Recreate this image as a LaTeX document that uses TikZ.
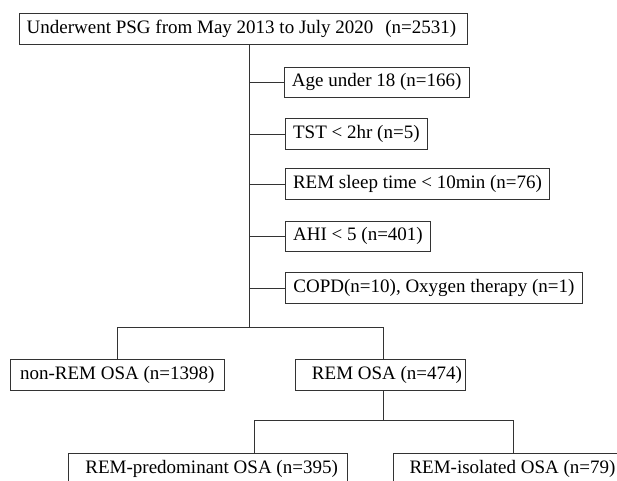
\documentclass[tikz,border=0pt]{standalone}
\usepackage{fontspec}
\setmainfont{Liberation Serif}
\begin{document}
\begin{tikzpicture}[
    x=1pt, y=-1pt,
    box/.style={rectangle, draw=black!80, line width=1pt, anchor=north west, minimum height=30.4pt, inner sep=2pt, font=\fontsize{19}{22}\selectfont},
    link/.style={draw=black!80, line width=1pt}
]
    \clip (0,0) rectangle (617,480);
    \node[box, minimum width=447.4pt] (psg) at (19.3,13.3) {Underwent PSG from May 2013 to July 2020\hspace{12pt}(n=2531)\hspace*{4pt}};
    \node[box, minimum width=185.5pt] (age) at (283.5,66.7) {Age under 18 (n=166)};
    \node[box, minimum width=141.7pt] (tst) at (285,118.3) {TST < 2hr (n=5)};
    \node[box, minimum width=264pt] (remtime) at (285,168.3) {REM sleep time < 10min (n=76)};
    \node[box, minimum width=145pt] (ahi) at (285,220.7) {AHI < 5 (n=401)};
    \node[box, minimum width=296.4pt] (copd) at (285.3,272.3) {COPD(n=10), Oxygen therapy (n=1)};
    \node[box, minimum width=213.5pt] (nonrem) at (10,359.3) {non-REM OSA (n=1398)};
    \node[box, minimum width=170pt] (remosa) at (294.5,359.3) {\hspace*{14pt}REM OSA (n=474)};
    \node[box, minimum width=279.3pt] (pred) at (67.7,453.3) {\hspace*{7.6pt}REM-predominant OSA (n=395)};
    \node[box, minimum width=228pt] (iso) at (392.5,453.3) {\hspace*{11pt}REM-isolated OSA (n=79)};
    \coordinate (split) at (249,327.3);
    \coordinate (fork) at (383,420.7);
    \draw[link] (psg.south -| split) -- (split);
    \foreach \n in {age,tst,remtime,ahi,copd}
        \draw[link] (\n.west -| split) -- (\n.west);
    \draw[link] (nonrem.north) |- (split) -| (remosa.north -| fork);
    \draw[link] (remosa.south -| fork) -- (fork);
    \draw[link] ([xshift=46.7pt]pred.north) |- (fork) -| ([xshift=6.5pt]iso.north);
\end{tikzpicture}
\end{document}
